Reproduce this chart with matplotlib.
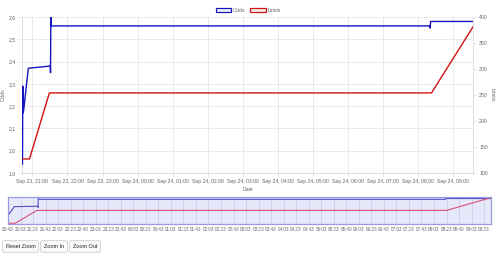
import matplotlib
matplotlib.use('Agg')
import matplotlib.pyplot as plt
import matplotlib.dates as mdates
from matplotlib.patches import Patch
from matplotlib.ticker import FuncFormatter, MultipleLocator
import pandas as pd

plt.rcParams['font.family'] = ['Liberation Sans', 'DejaVu Sans']

# odds series (left axis)
odds_times = ['2023-09-23 20:43:00', '2023-09-23 20:43:30', '2023-09-23 20:44:30',
              '2023-09-23 20:53:00', '2023-09-23 21:30:30', '2023-09-23 21:31:00',
              '2023-09-23 21:31:30', '2023-09-23 21:32:00', '2023-09-24 08:20:00',
              '2023-09-24 08:20:30', '2023-09-24 08:21:30', '2023-09-24 09:34:00']
odds_values = [1.94, 2.29, 2.17, 2.37, 2.38, 2.35, 2.61, 2.56, 2.56, 2.55, 2.58, 2.58]

# limits series (right axis)
limits_times = ['2023-09-23 20:43:00', '2023-09-23 20:55:00', '2023-09-23 21:29:00',
                '2023-09-24 08:23:00', '2023-09-24 09:34:00']
limits_values = [127, 127, 254, 254, 381]

buttons = ['Reset Zoom', 'Zoom In', 'Zoom Out']

W, H = 500, 257
BLUE = '#1414c4'
RED = '#d01212'
GRID = '#e6e6e6'
TXT = '#666666'
FS = 3.7

odds_t = pd.to_datetime(odds_times)
lim_t = pd.to_datetime(limits_times)
t_start, t_end = odds_t[0], odds_t[-1]


def fig_box(x1, y1, x2, y2):
    # pixel box (top-left origin) -> figure fractions
    return [x1 / W, 1 - y2 / H, (x2 - x1) / W, (y2 - y1) / H]


fig = plt.figure(figsize=(W / 100, H / 100), dpi=100)

# main chart
ax = fig.add_axes(fig_box(22, 17, 473, 173))
ax2 = ax.twinx()
ax.plot(odds_t, odds_values, color=BLUE, lw=1.0, zorder=3)
ax2.plot(lim_t, limits_values, color=RED, lw=1.0, zorder=3)
ax.set_xlim(t_start - pd.Timedelta(seconds=50), t_end)
ax.set_ylim(1.9, 2.6)
ax2.set_ylim(100, 400)
ax.yaxis.set_major_locator(MultipleLocator(0.1))
ax.yaxis.set_major_formatter(FuncFormatter(lambda v, p: f'{v:.1f}'.replace('.', ',')))
ax2.yaxis.set_major_locator(MultipleLocator(50))
ax.xaxis.set_major_locator(mdates.HourLocator())
ax.xaxis.set_major_formatter(mdates.DateFormatter('%b %d, %H:%M'))
ax.grid(True, color=GRID, lw=0.6)
ax.set_axisbelow(True)
for a in (ax, ax2):
    for s in a.spines.values():
        s.set_color('#d8d8d8')
        s.set_linewidth(0.6)
    a.spines['top'].set_visible(False)
    a.tick_params(labelsize=FS, labelcolor=TXT, color=GRID, length=3, width=0.6, pad=1.5)
ax.spines['right'].set_visible(False)
ax2.spines['left'].set_visible(False)
ax2.spines['bottom'].set_visible(False)
ax.set_xlabel('Date', fontsize=FS, color=TXT, labelpad=2)
ax.set_ylabel('Odds', fontsize=FS, color=TXT, labelpad=2)
ax2.set_ylabel('Limits', fontsize=FS, color=TXT, rotation=270, labelpad=5)

handles = [Patch(facecolor='#f0f0f0', edgecolor=BLUE, lw=0.9, label='Odds'),
           Patch(facecolor='#f0f0f0', edgecolor=RED, lw=0.9, label='Limits')]
fig.legend(handles=handles, loc='center', bbox_to_anchor=(0.497, 1 - 10.5 / H), ncol=2,
           frameon=False, fontsize=FS, labelcolor=TXT, handlelength=3.0, handleheight=0.9,
           handletextpad=0.4, columnspacing=0.9, borderpad=0)

# navigator
nav = fig.add_axes(fig_box(8, 197, 491, 224))
nav2 = nav.twinx()
nav.set_facecolor('#e8e8fb')
nav.plot(odds_t, odds_values, color='#5252c4', lw=0.8)
nav2.plot(lim_t, limits_values, color='#d65078', lw=0.8)
nav.set_xlim(t_start, t_end)
nav.set_ylim(min(odds_values) - 0.02, max(odds_values) + 0.01)
nav2.set_ylim(min(limits_values) - 8, max(limits_values) + 6)
nav.xaxis.set_major_locator(mdates.MinuteLocator(byminute=[3, 23, 43]))
nav.xaxis.set_major_formatter(mdates.DateFormatter('%H:%M'))
nav.grid(True, axis='x', color='#c9c9ea', lw=0.5)
for a in (nav, nav2):
    a.set_yticks([])
    for s in a.spines.values():
        s.set_color('#9a9ae2')
        s.set_linewidth(0.8)
nav.tick_params(axis='x', labelsize=3.3, labelcolor=TXT, length=0, pad=2.5)

# zoom buttons
btn_x = [20.5, 54, 85]
for label, x in zip(buttons, btn_x):
    fig.text(x / W, 1 - 246.5 / H, label, fontsize=4.0, color='#222222', ha='center', va='center',
             bbox=dict(boxstyle='round,pad=0.6,rounding_size=0.35', fc='#fafafa', ec='#cfcfcf', lw=0.6))

fig.savefig('out.png', dpi=100)
